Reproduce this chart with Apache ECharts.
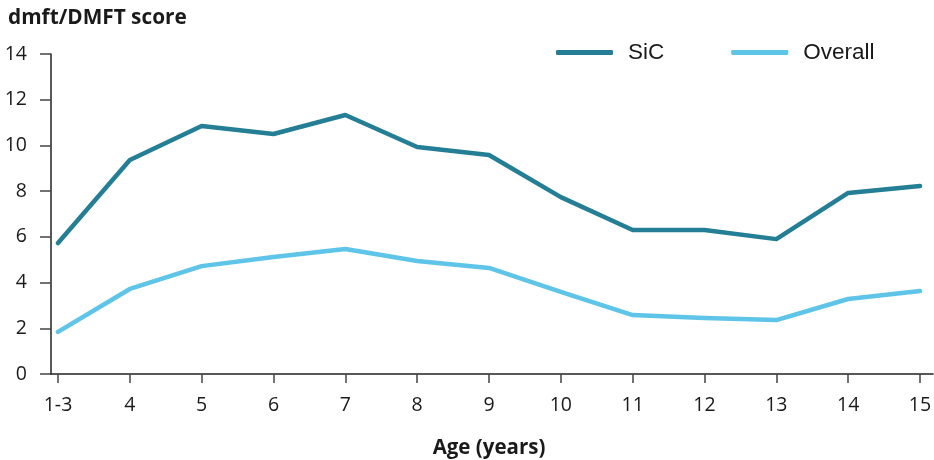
<!DOCTYPE html>
<html><head><meta charset="utf-8">
<script src="https://cdn.jsdelivr.net/npm/echarts@6/dist/echarts.min.js"></script>
<style>html,body{margin:0;padding:0;background:#fff}#c{width:934px;height:460px}</style>
</head><body><div id="c"></div>
<script>
const categories = ['1-3','4','5','6','7','8','9','10','11','12','13','14','15'];
const sic = [5.73, 9.36, 10.85, 10.5, 11.33, 9.93, 9.58, 7.74, 6.3, 6.3, 5.9, 7.92, 8.22];
const overall = [1.84, 3.72, 4.72, 5.12, 5.47, 4.94, 4.64, 3.59, 2.58, 2.45, 2.36, 3.28, 3.63];
const yTicks = [0, 2, 4, 6, 8, 10, 12, 14];

const chart = echarts.init(document.getElementById('c'));
const txt = '#1a1a1a';
chart.setOption({
  animation: false,
  textStyle: {fontFamily: 'Open Sans'},
  title: [{
    text: 'dmft/DMFT score', left: 3, top: 3,
    textStyle: {fontFamily: 'Open Sans', fontWeight: 'bold', fontSize: 20.8, color: txt}
  }],
  legend: {
    top: 36, left: 551, itemWidth: 57, itemHeight: 5, itemGap: 67,
    icon: 'roundRect',
    textStyle: {fontFamily: 'Liberation Sans', fontSize: 22.5, color: txt, padding: [0,0,0,10]},
    data: ['SiC', 'Overall']
  },
  grid: [
    {left: 58, right: 14, top: 54, bottom: 86, outerBoundsMode: 'none', containLabel: false},
    {left: 51, right: 1, top: 54, bottom: 86, outerBoundsMode: 'none', containLabel: false}
  ],
  xAxis: [{
    type: 'category', data: categories, boundaryGap: false, gridIndex: 0, offset: 5,
    axisLine: {show: false},
    axisTick: {show: true, length: 9, lineStyle: {color: '#444', width: 1.5}, alignWithLabel: true},
    axisLabel: {color: txt, fontSize: 19.5, margin: 16, fontFamily: 'Open Sans'},
    name: 'Age (years)', nameLocation: 'middle', nameGap: 59,
    nameTextStyle: {fontFamily: 'Open Sans', fontWeight: 'bold', fontSize: 20.5, color: txt}
  }, {
    type: 'value', gridIndex: 1, offset: 5, min: 0, max: 1,
    axisLine: {show: true, lineStyle: {color: '#222', width: 1.5}},
    axisTick: {show: false}, axisLabel: {show: false}, splitLine: {show: false}
  }],
  yAxis: [{
    type: 'value', min: yTicks[0], max: yTicks[yTicks.length-1], interval: 2, gridIndex: 0, offset: 7,
    axisLine: {show: true, lineStyle: {color: '#222', width: 1.5}},
    axisTick: {show: true, length: 11, lineStyle: {color: '#444', width: 1.5}},
    axisLabel: {color: txt, fontSize: 19.5, margin: 24, fontFamily: 'Open Sans'},
    splitLine: {show: false}
  }, {
    type: 'value', gridIndex: 1, show: false
  }],
  series: [{
    name: 'SiC', type: 'line', data: sic, xAxisIndex: 0, yAxisIndex: 0,
    symbol: 'none', lineStyle: {color: '#247F96', width: 4.5, cap: 'round', join: 'round'},
    itemStyle: {color: '#247F96'}
  }, {
    name: 'Overall', type: 'line', data: overall, xAxisIndex: 0, yAxisIndex: 0,
    symbol: 'none', lineStyle: {color: '#5EC4E8', width: 4.5, cap: 'round', join: 'round'},
    itemStyle: {color: '#5EC4E8'}
  }]
});
</script></body></html>
